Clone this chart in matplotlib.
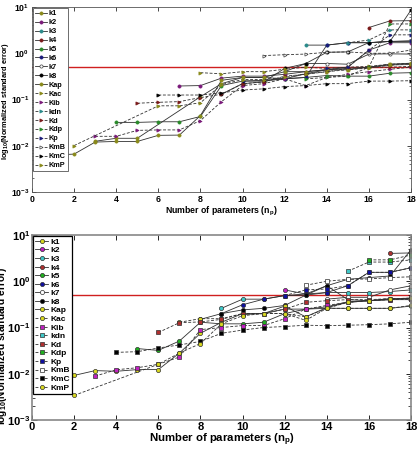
import matplotlib
matplotlib.use('Agg')
import matplotlib.pyplot as plt
from matplotlib.ticker import LogLocator, NullFormatter

plt.rcParams['font.family'] = ['Liberation Sans', 'DejaVu Sans']
plt.rcParams['font.weight'] = 'bold'
plt.rcParams['mathtext.fontset'] = 'custom'
plt.rcParams['mathtext.rm'] = 'Liberation Sans:bold'
plt.rcParams['mathtext.it'] = 'Liberation Sans:bold'
plt.rcParams['mathtext.bf'] = 'Liberation Sans:bold'

names = ['k1', 'k2', 'k3', 'k4', 'k5', 'k6', 'k7', 'k8', 'Kap',
         'Kac', 'Kib', 'kdn', 'Kd', 'Kdp', 'Kp', 'KmB', 'KmC', 'KmP']
threshold = 0.5

# ---------------- top panel data ----------------
top_k1_x = [3, 4, 5, 8, 9, 10, 11, 12, 13, 14, 15, 16, 17, 18]
top_k1_y = [0.0125, 0.0145, 0.0145, 0.115, 0.22, 0.30, 0.30, 0.28, 0.36, 0.44, 0.47, 0.50, 0.58, 0.61]
top_k2_x = [7, 8, 9, 10, 11, 12, 13, 14, 15, 16, 17, 18]
top_k2_y = [0.196, 0.20, 0.29, 0.32, 0.32, 0.35, 0.40, 0.44, 0.50, 1.17, 1.69, 1.69]
top_k3_x = [13, 14, 15, 16, 17, 18]
top_k3_y = [1.5, 1.5, 1.69, 1.69, 1.8, 1.8]
top_k4_x = [16, 17, 18]
top_k4_y = [3.6, 5.0, 5.06]
top_k5_x = [4, 5, 6, 7, 8, 9, 10, 11, 12, 13, 14, 15, 16, 17, 18]
top_k5_y = [0.032, 0.032, 0.033, 0.033, 0.043, 0.20, 0.25, 0.25, 0.28, 0.30, 0.33, 0.32, 0.32, 0.37, 0.38]
top_k6_x = [10, 11, 12, 13, 14, 15, 16, 17, 18]
top_k6_y = [0.25, 0.26, 0.28, 0.30, 1.5, 1.69, 1.69, 1.8, 1.87]
top_k7_x = [12, 13, 14, 15, 16, 17, 18]
top_k7_y = [0.40, 0.60, 0.60, 0.58, 0.96, 0.97, 0.96]
top_k8_x = [9, 10, 11, 12, 13, 14, 15, 16, 17, 18]
top_k8_y = [0.13, 0.22, 0.24, 0.47, 0.60, 1.05, 1.07, 1.7, 1.8, 8.6]
top_Kap_x = list(range(1, 19))
top_Kap_y = [0.0063, 0.0066, 0.012, 0.0124, 0.0124, 0.0168, 0.017, 0.045, 0.26,
             0.30, 0.30, 0.40, 0.40, 0.44, 0.44, 0.50, 0.56, 0.57]
top_Kac_x = [8, 9, 10, 11, 12, 13, 14, 15, 16, 17, 18]
top_Kac_y = [0.38, 0.36, 0.40, 0.40, 0.45, 0.50, 0.47, 0.50, 0.52, 0.58, 0.60]
top_Kib_x = [3, 4, 5, 6, 7, 8, 9, 10, 11, 12, 13, 14, 15, 16, 17, 18]
top_Kib_y = [0.016, 0.016, 0.0215, 0.022, 0.022, 0.035, 0.09, 0.20, 0.22, 0.28, 0.20, 0.30, 0.35, 0.40, 0.45, 0.50]
top_kdn_x = [15, 16, 17, 18]
top_kdn_y = [1.69, 1.93, 3.2, 3.2]
top_Kd_x = [5, 6, 7, 8, 9, 10, 11, 12, 13, 14, 15, 16, 17, 18]
top_Kd_y = [0.083, 0.087, 0.09, 0.11, 0.13, 0.22, 0.24, 0.32, 0.35, 0.40, 0.47, 0.50, 0.50, 0.52]
top_Kdp_x = [13, 14, 15, 16, 17, 18]
top_Kdp_y = [0.28, 0.30, 0.32, 0.50, 4.3, 4.3]
top_Kp_x = [14, 15, 16, 17, 18]
top_Kp_y = [0.47, 0.50, 1.17, 2.5, 2.5]
top_KmB_x = [11, 12, 13, 14, 15, 16, 17, 18]
top_KmB_y = [0.89, 0.93, 0.96, 1.05, 1.07, 1.0, 1.0, 1.17]
top_KmC_x = [6, 7, 8, 9, 10, 11, 12, 13, 14, 15, 16, 17, 18]
top_KmC_y = [0.125, 0.125, 0.125, 0.14, 0.16, 0.17, 0.19, 0.20, 0.22, 0.22, 0.25, 0.25, 0.255]
top_KmP_x = [2, 6, 7, 8, 9, 10, 11, 12, 13, 14, 15, 16, 17, 18]
top_KmP_y = [0.0101, 0.073, 0.073, 0.085, 0.21, 0.27, 0.27, 0.30, 0.36, 0.40, 0.44, 0.48, 0.55, 0.60]

# ---------------- bottom panel data ----------------
bot_k1_x = [10, 11, 12, 13, 14, 15, 16, 17, 18]
bot_k1_y = [0.19, 0.20, 0.25, 0.25, 0.28, 0.36, 0.38, 0.40, 0.43]
bot_k2_x = [12, 13, 14, 15, 16, 17, 18]
bot_k2_y = [0.65, 0.53, 0.80, 0.40, 0.38, 0.42, 0.43]
bot_k3_x = [9, 10, 11, 12, 13, 14, 15, 16, 17, 18]
bot_k3_y = [0.26, 0.41, 0.41, 0.49, 0.50, 0.57, 0.57, 0.57, 0.60, 0.65]
bot_k4_x = [17, 18]
bot_k4_y = [4.0, 4.1]
bot_k5_x = [5, 6, 7, 8, 9, 10, 11, 12, 13, 14, 15, 16, 17, 18]
bot_k5_y = [0.035, 0.032, 0.051, 0.13, 0.12, 0.12, 0.13, 0.20, 0.25, 0.26, 0.26, 0.26, 0.26, 0.29]
bot_k6_x = [9, 10, 11, 12, 13, 14, 15, 16, 17, 18]
bot_k6_y = [0.20, 0.31, 0.41, 0.49, 0.53, 0.57, 0.80, 1.56, 1.56, 1.96]
bot_k7_x = [14, 15, 16, 17, 18]
bot_k7_y = [0.41, 0.45, 0.45, 0.65, 0.80]
bot_k8_x = [8, 9, 10, 11, 12, 13, 14, 15, 16, 17, 18]
bot_k8_y = [0.15, 0.20, 0.24, 0.26, 0.30, 0.50, 0.80, 1.1, 1.2, 1.3, 4.8]
bot_Kap_x = list(range(2, 19))
bot_Kap_y = [0.0092, 0.0117, 0.0113, 0.0123, 0.0123, 0.028, 0.075, 0.13, 0.20,
             0.20, 0.29, 0.17, 0.27, 0.35, 0.38, 0.40, 0.40]
bot_Kac_x = [7, 8, 9, 10, 11, 12, 13, 14, 15, 16, 17, 18]
bot_Kac_y = [0.13, 0.155, 0.155, 0.20, 0.20, 0.20, 0.17, 0.26, 0.26, 0.26, 0.26, 0.30]
bot_Kib_x = [3, 4, 5, 6, 7, 8, 9, 10, 11, 12, 13, 14, 15, 16, 17, 18]
bot_Kib_y = [0.0089, 0.0122, 0.0135, 0.016, 0.023, 0.09, 0.10, 0.11, 0.11, 0.155, 0.25, 0.30, 0.35, 0.38, 0.40, 0.41]
bot_kdn_x = [15, 16, 17, 18]
bot_kdn_y = [1.65, 2.6, 2.6, 2.9]
bot_Kd_x = [6, 7, 8, 9, 10, 11, 12, 13, 14, 15, 16, 17, 18]
bot_Kd_y = [0.078, 0.127, 0.132, 0.15, 0.20, 0.20, 0.25, 0.35, 0.38, 0.40, 0.40, 0.42, 0.43]
bot_Kdp_x = [16, 17, 18]
bot_Kdp_y = [2.9, 2.9, 3.7]
bot_Kp_x = [12, 13, 14, 15, 16, 17, 18]
bot_Kp_y = [0.49, 0.65, 0.68, 0.80, 1.56, 1.56, 1.96]
bot_KmB_x = [13, 14, 15, 16, 17, 18]
bot_KmB_y = [0.82, 1.0, 1.1, 1.12, 1.2, 1.25]
bot_KmC_x = [4, 5, 6, 7, 8, 9, 10, 11, 12, 13, 14, 15, 16, 17, 18]
bot_KmC_y = [0.029, 0.030, 0.036, 0.042, 0.050, 0.075, 0.088, 0.10, 0.105, 0.112, 0.11, 0.112, 0.115, 0.12, 0.13]
bot_KmP_x = [2, 6, 7, 8, 9, 10, 11, 12, 13, 14, 15, 16, 17, 18]
bot_KmP_y = [0.0034, 0.016, 0.028, 0.045, 0.12, 0.18, 0.20, 0.20, 0.143, 0.26, 0.35, 0.38, 0.42, 0.43]

top_x = [top_k1_x, top_k2_x, top_k3_x, top_k4_x, top_k5_x, top_k6_x, top_k7_x, top_k8_x, top_Kap_x,
         top_Kac_x, top_Kib_x, top_kdn_x, top_Kd_x, top_Kdp_x, top_Kp_x, top_KmB_x, top_KmC_x, top_KmP_x]
top_y = [top_k1_y, top_k2_y, top_k3_y, top_k4_y, top_k5_y, top_k6_y, top_k7_y, top_k8_y, top_Kap_y,
         top_Kac_y, top_Kib_y, top_kdn_y, top_Kd_y, top_Kdp_y, top_Kp_y, top_KmB_y, top_KmC_y, top_KmP_y]
bot_x = [bot_k1_x, bot_k2_x, bot_k3_x, bot_k4_x, bot_k5_x, bot_k6_x, bot_k7_x, bot_k8_x, bot_Kap_x,
         bot_Kac_x, bot_Kib_x, bot_kdn_x, bot_Kd_x, bot_Kdp_x, bot_Kp_x, bot_KmB_x, bot_KmC_x, bot_KmP_x]
bot_y = [bot_k1_y, bot_k2_y, bot_k3_y, bot_k4_y, bot_k5_y, bot_k6_y, bot_k7_y, bot_k8_y, bot_Kap_y,
         bot_Kac_y, bot_Kib_y, bot_kdn_y, bot_Kd_y, bot_Kdp_y, bot_Kp_y, bot_KmB_y, bot_KmC_y, bot_KmP_y]

top_colors = ['#8a8a1a', '#7a1a7a', '#2a8a8a', '#7a1a1a', '#2a8a2a', '#1a1a7a', '#ffffff', '#000000', '#8a8a1a',
              '#8a8a1a', '#7a1a7a', '#2a8a8a', '#7a1a1a', '#2a8a2a', '#1a1a7a', '#ffffff', '#000000', '#8a8a1a']
bot_colors = ['#d8d820', '#c020c0', '#40c8c8', '#b03030', '#20b020', '#1010a0', '#ffffff', '#000000', '#d8d820',
              '#d8d820', '#c020c0', '#40c8c8', '#b03030', '#20b020', '#1010a0', '#ffffff', '#000000', '#d8d820']

fig = plt.figure(figsize=(4.18, 4.49), dpi=100)
ax1 = fig.add_axes([32/418, 1-192/449, 379/418, 185/449])
ax2 = fig.add_axes([32/418, 1-420/449, 379/418, 185/449])


def draw(ax, xs, ys, colors, top):
    for i, name in enumerate(names):
        dashed = i >= 9
        if top:
            mk = '>' if dashed else 'o'
            ms = 2.3
            mec = '#404040' if colors[i] == '#ffffff' else colors[i]
        else:
            mk = 's' if (dashed and name not in ('Kac', 'KmP')) else 'o'
            ms = 3.0
            mec = '#303030'
        kw = dict(color='#303030', lw=0.6, marker=mk, ms=ms, mfc=colors[i], mec=mec,
                  mew=0.5, label=name)
        if dashed:
            ax.plot(xs[i], ys[i], linestyle=(0, (3.5, 2)), **kw)
        else:
            ax.plot(xs[i], ys[i], linestyle='-', **kw)
    ax.axhline(threshold, color='#d02020', lw=1.0, zorder=1)
    ax.set_yscale('log')
    ax.set_xlim(0, 18)
    ax.set_ylim(1e-3, 10)
    ax.set_xticks(range(0, 19, 2))
    ax.yaxis.set_major_locator(LogLocator(base=10, numticks=10))
    ax.yaxis.set_minor_locator(LogLocator(base=10, subs=range(2, 10), numticks=10))
    ax.yaxis.set_minor_formatter(NullFormatter())
    ax.tick_params(which='both', direction='in', top=True, right=True)


draw(ax1, top_x, top_y, top_colors, True)
draw(ax2, bot_x, bot_y, bot_colors, False)

# top styling
ax1.tick_params(labelsize=6.3, length=3, width=0.5, pad=2)
ax1.tick_params(which='minor', length=1.5, width=0.4)
for s in ax1.spines.values():
    s.set_linewidth(0.6)
    s.set_color('#555555')
ax1.set_xlabel('Number of parameters (n$_p$)', fontsize=6.3, fontweight='bold', labelpad=1)
ax1.set_ylabel('log$_{10}$(Normalized standard error)', fontsize=5.4, fontweight='bold')
ax1.yaxis.set_label_coords(-0.056, 0.49)
leg1 = ax1.legend(loc='upper left', fontsize=5.2, handlelength=1.6, handletextpad=0.3,
                  labelspacing=0.26, borderpad=0.3, borderaxespad=0.15, frameon=True, fancybox=False)
leg1.get_frame().set_edgecolor('#555555')
leg1.get_frame().set_linewidth(0.6)
leg1.get_frame().set_alpha(1)
for t in leg1.get_texts():
    t.set_fontweight('bold')

# bottom styling
ax2.tick_params(labelsize=8.0, length=3.5, width=0.6, pad=1.2)
ax2.tick_params(which='minor', length=2, width=0.5)
for s in ax2.spines.values():
    s.set_linewidth(1.2)
    s.set_color('#888888')
ax2.set_xlabel('Number of parameters (n$_p$)', fontsize=8.2, fontweight='bold', labelpad=0)
ax2.set_ylabel('log$_{10}$(Normalized standard error)', fontsize=7.3, fontweight='bold')
ax2.yaxis.set_label_coords(-0.062, 0.40)
leg2 = ax2.legend(loc='upper left', fontsize=6.0, handlelength=1.6, handletextpad=0.3,
                  labelspacing=0.09, borderpad=0.25, borderaxespad=0.1, frameon=True, fancybox=False)
leg2.get_frame().set_edgecolor('#000000')
leg2.get_frame().set_linewidth(0.9)
leg2.get_frame().set_alpha(1)
for t in leg2.get_texts():
    t.set_fontweight('bold')

fig.savefig('out.png', dpi=100)
